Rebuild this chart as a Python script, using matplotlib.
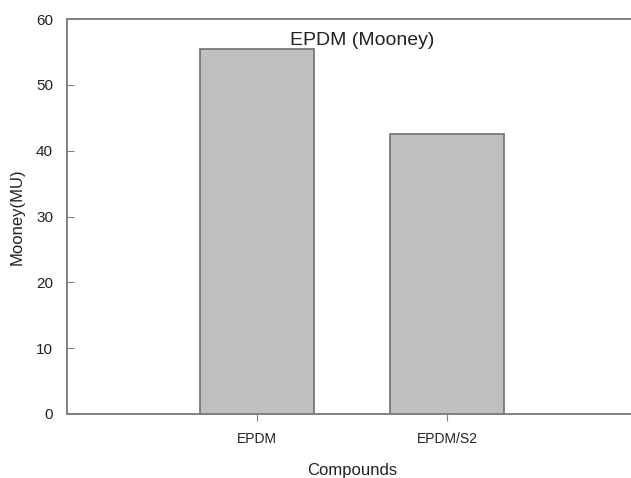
import matplotlib
matplotlib.use("Agg")
import matplotlib.pyplot as plt

compounds = ["EPDM", "EPDM/S2"]
mooney = [55.4, 42.6]
positions = [1, 2]

plt.rcParams['font.family'] = ['Liberation Sans', 'DejaVu Sans']

fig = plt.figure(figsize=(6.31, 4.78), dpi=100)
ax = fig.add_axes([0.106, 0.134, 0.9035, 0.826])

ax.bar(positions, mooney, width=0.6, color="#c0c0c0", edgecolor="#707070", linewidth=1.2)

ax.set_xlim(0, 3)
ax.set_ylim(0, 60)
ax.set_xticks(positions)
ax.set_xticklabels(compounds, fontsize=10, color="#222222")
ax.set_yticks(range(0, 61, 10))
ax.tick_params(axis="y", direction="in", length=5, colors="#808080", labelcolor="#222222", labelsize=11, pad=10)
ax.tick_params(axis="x", direction="out", length=5, colors="#808080", labelcolor="#222222", pad=8)

for side in ["left", "bottom", "top"]:
    ax.spines[side].set_color("#808080")
    ax.spines[side].set_linewidth(1.4)
ax.spines["right"].set_visible(False)

ax.set_xlabel("Compounds", fontsize=12, color="#222222", labelpad=12)
ax.set_ylabel("Mooney(MU)", fontsize=12, color="#222222", labelpad=8)
ax.text(0.5175, 0.947, "EPDM (Mooney)", transform=ax.transAxes, ha="center", va="center",
        fontsize=14, color="#222222")

fig.savefig("out.png", dpi=100)
